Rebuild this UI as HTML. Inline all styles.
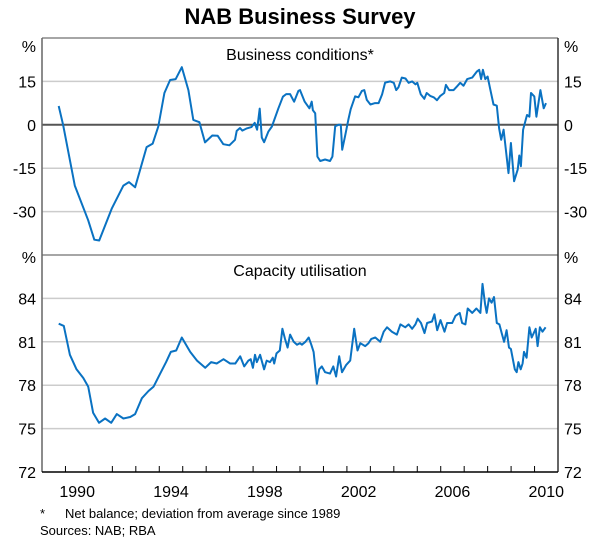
<!DOCTYPE html>
<html><head><meta charset="utf-8"><style>
body{margin:0;background:#fff;}
svg text{font-family:"Liberation Sans",Arial,sans-serif;fill:#000;}
</style></head><body>
<svg id="chart" width="600" height="544" viewBox="0 0 600 544" xmlns="http://www.w3.org/2000/svg">
<text x="300" y="24" text-anchor="middle" font-size="22" font-weight="bold">NAB Business Survey</text>
<g id="grid"></g>
<g id="axes"></g>
<g id="series"></g>
<text x="300" y="60" text-anchor="middle" font-size="16">Business conditions*</text>
<text x="300" y="276" text-anchor="middle" font-size="16">Capacity utilisation</text>
<text x="40" y="518" font-size="13">*</text>
<text x="65" y="518" font-size="13">Net balance; deviation from average since 1989</text>
<text x="40" y="535" font-size="13">Sources: NAB; RBA</text>
</svg>
<script>
const bcDates=[1989.71,1989.9,1990.4,1990.97,1991.23,1991.44,1991.97,1992.47,1992.71,1992.97,1993.46,1993.72,1993.96,1994.22,1994.46,1994.7,1994.96,1995.24,1995.45,1995.71,1995.95,1996.26,1996.49,1996.73,1996.99,1997.23,1997.3,1997.44,1997.54,1997.71,1997.93,1998.07,1998.17,1998.28,1998.37,1998.47,1998.65,1998.8,1999.08,1999.27,1999.41,1999.58,1999.75,1999.93,2000.0,2000.2,2000.4,2000.5,2000.55,2000.65,2000.74,2000.86,2001.07,2001.28,2001.38,2001.5,2001.64,2001.74,2001.8,2001.92,2002.06,2002.16,2002.35,2002.49,2002.64,2002.74,2002.85,2003.0,2003.2,2003.35,2003.5,2003.63,2003.85,2004.0,2004.1,2004.2,2004.34,2004.5,2004.63,2004.78,2004.92,2005.0,2005.15,2005.3,2005.4,2005.55,2005.7,2005.84,2005.98,2006.15,2006.22,2006.36,2006.55,2006.7,2006.83,2006.97,2007.13,2007.34,2007.54,2007.64,2007.72,2007.8,2007.9,2008.0,2008.1,2008.25,2008.39,2008.49,2008.58,2008.68,2008.89,2008.99,2009.13,2009.28,2009.35,2009.42,2009.51,2009.68,2009.78,2009.85,2009.99,2010.08,2010.25,2010.39,2010.49];
const bcValues=[6.5,0,-21,-33,-39.7,-40,-29,-21,-19.8,-21.6,-7.7,-6.5,-0.6,11,15.5,15.8,19.9,12,1.7,0.9,-6.1,-3.7,-3.8,-6.7,-7.1,-5.2,-2.1,-1.1,-2,-1.3,-0.8,0.7,-1.7,5.6,-4.4,-6,-2.4,-0.6,5.7,9.7,10.6,10.6,8,11.7,12,8,5.7,8,5,4,-11,-12.5,-12,-12.5,-11,-0.5,0,0,-8.6,-4,1.7,5.4,9.8,9.5,11.7,12,8.6,7,7.5,7.5,10.5,14.6,15,14.5,12,13,16.3,16,14.5,15,14,14.5,10.5,9,11,10,9.5,8.5,10,11,13.8,12,12,13.3,14.5,13.5,15.8,16.3,18.4,19,15.8,19,15.8,16.7,12.7,7,6.6,-1.2,-5.2,-1.7,-16.7,-6.3,-19.5,-15.5,-10.6,-14.3,-1.7,3.4,2.8,11,9.8,2.8,12,5.7,7.5];
const cuDates=[1989.71,1989.93,1990.19,1990.47,1990.76,1990.97,1991.18,1991.43,1991.69,1991.95,1992.19,1992.47,1992.76,1992.97,1993.26,1993.54,1993.76,1994.04,1994.29,1994.49,1994.72,1994.96,1995.32,1995.61,1995.96,1996.21,1996.45,1996.74,1997.02,1997.24,1997.45,1997.62,1997.8,1997.9,1997.99,1998.08,1998.16,1998.3,1998.47,1998.58,1998.72,1998.84,1998.9,1999.0,1999.14,1999.25,1999.36,1999.47,1999.58,1999.73,1999.87,2000.0,2000.08,2000.23,2000.37,2000.48,2000.58,2000.72,2000.82,2000.93,2001.07,2001.28,2001.42,2001.54,2001.67,2001.79,2001.97,2002.14,2002.31,2002.45,2002.57,2002.78,2002.92,2003.04,2003.21,2003.42,2003.57,2003.71,2003.92,2004.13,2004.28,2004.49,2004.63,2004.78,2004.92,2005.02,2005.16,2005.31,2005.42,2005.63,2005.73,2005.85,2005.99,2006.16,2006.27,2006.49,2006.63,2006.81,2006.91,2007.05,2007.15,2007.34,2007.52,2007.69,2007.78,2007.89,2007.96,2008.06,2008.17,2008.27,2008.39,2008.5,2008.6,2008.7,2008.81,2008.91,2008.99,2009.16,2009.24,2009.31,2009.41,2009.49,2009.55,2009.66,2009.78,2009.88,2010.05,2010.13,2010.23,2010.34,2010.47];
const cuValues=[82.25,82.1,80.1,79.1,78.5,77.9,76.1,75.4,75.7,75.4,76.0,75.7,75.8,76.0,77.1,77.6,77.9,78.8,79.6,80.3,80.4,81.3,80.3,79.7,79.2,79.6,79.5,79.8,79.5,79.5,80.0,79.3,79.7,79.8,79.2,80.1,79.6,80.1,79.1,79.7,79.6,79.9,79.5,80.2,80.4,81.9,81.2,80.6,81.5,81.0,80.8,80.9,80.8,81.0,81.3,80.8,80.3,78.1,79.1,79.3,78.9,78.8,79.3,78.6,80.0,78.9,79.4,79.7,81.9,80.4,80.9,80.7,80.9,81.2,81.3,81.0,81.7,82.0,81.7,81.5,82.2,82.0,82.2,81.9,82.2,82.6,82.3,81.6,82.3,82.4,82.9,81.8,82.5,81.7,82.3,82.3,82.8,83.0,82.3,82.2,83.3,83.0,83.3,83.0,85.0,83.6,83.0,84.0,83.7,84.1,82.3,82.2,81.6,81.0,81.8,80.6,80.5,79.1,78.9,79.6,79.1,79.5,80.3,79.9,82.0,81.3,81.9,80.7,82.0,81.7,82.0];
const topTicks=[15,0,-15,-30];
const botTicks=[84,81,78,75,72];
const yearLabels=[1990,1994,1998,2002,2006,2010];

const NS='http://www.w3.org/2000/svg';
const L=42,R=558,T=38,M=255,B=472;
const x=y=>L+(y-1989)*(R-L)/22;
const yTop=v=>T+(30-v)*(M-T)/75;
const yBot=v=>M+(87-v)*(B-M)/15;
function mk(tag,attrs,parent){const e=document.createElementNS(NS,tag);for(const k in attrs)e.setAttribute(k,attrs[k]);parent.appendChild(e);return e;}
const grid=document.getElementById('grid'),axes=document.getElementById('axes'),ser=document.getElementById('series');

topTicks.forEach(v=>{
  const gy=yTop(v);
  const ln=mk('line',{x1:L,x2:R,y1:gy,y2:gy,stroke:v===0?'#555':'#ccc','stroke-width':v===0?2:1.5},grid);
  
  
  [[L-6,'end'],[R+6,'start']].forEach(([tx,a])=>{
    const t=mk('text',{x:tx,y:gy+6,'text-anchor':a,'font-size':16},axes);
    t.textContent=v;
    
    
  });
});
botTicks.forEach(v=>{
  const gy=yBot(v);
  if(v!==72){
    const ln=mk('line',{x1:L,x2:R,y1:gy,y2:gy,stroke:'#ccc','stroke-width':1.5},grid);
    
    
  }
  [[L-6,'end'],[R+6,'start']].forEach(([tx,a])=>{
    const t=mk('text',{x:tx,y:gy+6,'text-anchor':a,'font-size':16},axes);
    t.textContent=v;
    
    
  });
});
[[L-6,'end'],[R+6,'start']].forEach(([tx,a])=>{
  [T+14,M+8].forEach(py=>{
    const t=mk('text',{x:tx,y:py,'text-anchor':a,'font-size':16},axes);
    t.textContent='%';
    
    
  });
});
const frame=[[L,T,R,T,'#888'],[L,M,R,M,'#888'],[L,T,L,B,'#666'],[R,T,R,B,'#333'],[L,B,R,B,'#000']];
frame.forEach(f=>{
  const ln=mk('line',{x1:f[0],y1:f[1],x2:f[2],y2:f[3],stroke:f[4],'stroke-width':1.5},axes);
  
  
});
for(let yr=1990;yr<=2010;yr++){
  const tk=mk('line',{x1:x(yr),x2:x(yr),y1:B,y2:B-6,stroke:'#000','stroke-width':1},axes);
  
  
}
yearLabels.forEach(yr=>{
  const t=mk('text',{x:x(yr+0.5),y:B+25,'text-anchor':'middle','font-size':16},axes);
  t.textContent=yr;
  
  
});
function line(ds,vs,yf,name){
  const d=ds.map((dt,i)=>(i?'L':'M')+x(dt).toFixed(1)+','+yf(vs[i]).toFixed(1)).join('');
  const p=mk('path',{d:d,fill:'none',stroke:'#0a72c2','stroke-width':2,'stroke-linejoin':'round'},ser);
  
  
}
line(bcDates,bcValues,yTop,'business-conditions-line');
line(cuDates,cuValues,yBot,'capacity-utilisation-line');
</script>
</body></html>
